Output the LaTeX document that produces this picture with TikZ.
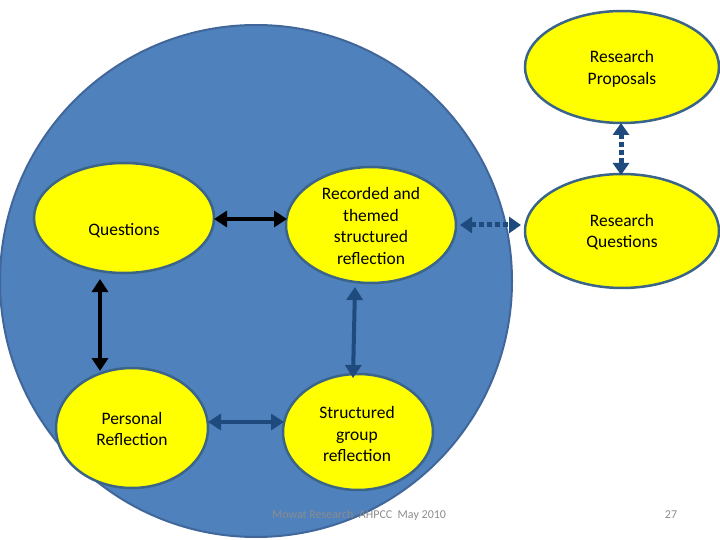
\documentclass[tikz,border=0pt]{standalone}
\usepackage{fontspec}
\setmainfont{Carlito}
\usetikzlibrary{arrows.meta}
\definecolor{bigfill}{HTML}{4F81BD}
\definecolor{bigedge}{HTML}{41679A}
\definecolor{elledge}{HTML}{3B6489}
\definecolor{ellfill}{HTML}{FFFF00}
\definecolor{darkblue}{HTML}{1F4A7E}
\definecolor{footgray}{HTML}{8C8C8C}
\tikzset{
  ell/.style={draw=elledge, line width=2.5pt, fill=ellfill},
  lbl/.style={align=center, font=\fontsize{17.5}{21.5}\selectfont, text=black},
  blk/.style={draw=black, line width=4pt, {Triangle[length=13pt,width=16pt]}-{Triangle[length=13pt,width=16pt]}},
  blu/.style={draw=darkblue, line width=4pt, {Triangle[length=13pt,width=16pt]}-{Triangle[length=13pt,width=16pt]}},
  dotarr/.style={draw=darkblue, line width=5pt, dash pattern=on 5pt off 3pt, {Triangle[length=12pt,width=16pt]}-{Triangle[length=12pt,width=16pt]}},
}
\begin{document}
\begin{tikzpicture}[x=1pt,y=-1pt]
\useasboundingbox (0,0) rectangle (720,540);
\begin{scope}
\clip (0,0) rectangle (720,540);
\fill[bigfill, draw=bigedge, line width=2pt] (256,281) circle (256);
\end{scope}
% ellipses
\draw[ell] (124,218) ellipse (90 and 55);
\draw[ell] (371,225) ellipse (85 and 58);
\draw[ell] (622,231) ellipse (97 and 57);
\draw[ell] (622,67) ellipse (97 and 56);
\draw[ell] (132,428) ellipse (76 and 60);
\draw[ell] (358,432) ellipse (75 and 58);
% labels
\node[lbl] (q) at (124,231) {Questions};
\node[lbl] (rec) at (371,226) {Recorded and\\themed\\structured\\reflection};
\node[lbl] (rq) at (622,232) {Research\\Questions};
\node[lbl] (rp) at (622,69) {Research\\Proposals};
\node[lbl] (pr) at (132,429) {Personal\\Reflection};
\node[lbl] (sg) at (357,434) {Structured\\group\\reflection};
% connector endpoints
\coordinate (a1) at (214,219); \coordinate (a2) at (287,219);
\coordinate (b1) at (100,279); \coordinate (b2) at (100,371);
\coordinate (c1) at (355,287); \coordinate (c2) at (353,378);
\coordinate (d1) at (208,422); \coordinate (d2) at (284,422);
\coordinate (e1) at (460,225); \coordinate (e2) at (521,225);
\coordinate (f1) at (621,123); \coordinate (f2) at (621,175);
\draw[blk] (a1) -- (a2);
\draw[blk] (b1) -- (b2);
\draw[blu] (c1) -- (c2);
\draw[blu] (d1) -- (d2);
\draw[dotarr] (e1) -- (e2);
\draw[dotarr] (f1) -- (f2);
% footer
\node[text=footgray, font=\fontsize{12}{14}\selectfont] (foot) at (359,515) {Mowat Research \ AHPCC \ May 2010};
\node[text=footgray, font=\fontsize{12}{14}\selectfont] (pg) at (671,515) {27};
\end{tikzpicture}
\end{document}
